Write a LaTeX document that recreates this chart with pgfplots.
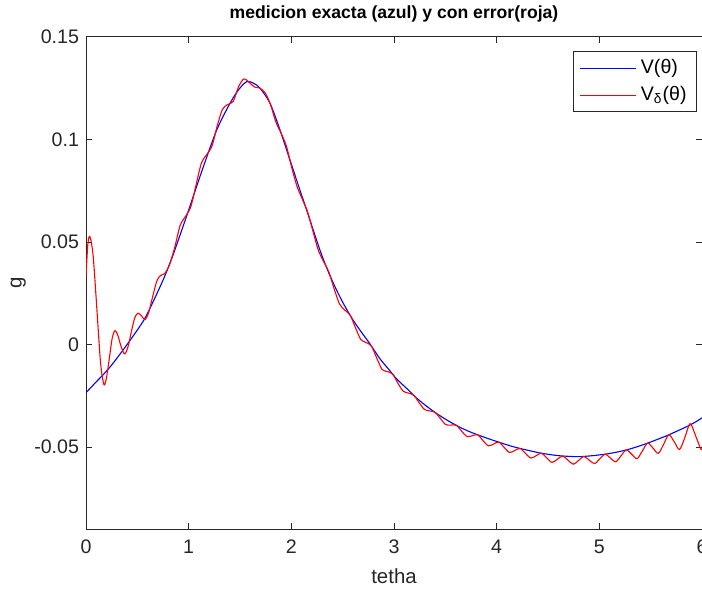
\documentclass[border=0pt]{standalone}
\usepackage{fontspec}
\setmainfont{Liberation Sans}
\usepackage{pgfplots}
\pgfplotsset{compat=1.18}
\definecolor{axgray}{gray}{0.15}

\begin{document}
\begin{tikzpicture}
\begin{axis}[
  scale only axis, width=308pt, height=246pt,
  xmin=0, xmax=6, ymin=-0.09, ymax=0.15,
  xtick={0,1,2,3,4,5,6}, xticklabels={0,1,2,3,4,5,6},
  ytick={-0.05,0,0.05,0.1,0.15}, yticklabels={-0.05,0,0.05,0.1,0.15},
  tick align=inside, major tick length=3pt,
  axis line style={axgray, line width=0.5pt},
  every tick/.style={axgray, line width=0.5pt},
  tick label style={font=\fontsize{9.8}{11}\selectfont, text=axgray},
  xticklabel style={yshift=-2pt},
  xlabel={tetha}, ylabel={g},
  label style={font=\fontsize{10.2}{12}\selectfont, text=axgray},
  xlabel style={at={(axis description cs:0.5,-0.0955)}, anchor=center},
  ylabel style={at={(axis description cs:-0.110,0.5)}, anchor=center},
  title={medicion exacta (azul) y con error(roja)},
  title style={font=\bfseries\fontsize{8.8}{10}\selectfont,
    at={(axis description cs:0.5,1.047)}, anchor=center, yshift=-6pt},
  legend style={at={(axis description cs:0.992,0.9715)}, anchor=north east,
    draw=axgray, line width=0.5pt, font=\fontsize{9.8}{11}\selectfont,
    inner xsep=3pt, inner ysep=2pt, row sep=1pt, cells={anchor=west}},
  legend image code/.code={\draw[#1] (1pt,0pt) -- (29pt,0pt);},
]
% exacta
\addplot[blue, line width=0.55pt, smooth] coordinates {
(0.000,-0.0235) (0.100,-0.0182) (0.175,-0.0143) (0.250,-0.0100) (0.370,-0.0021)
(0.450,0.0035) (0.565,0.0120) (0.650,0.0205) (0.760,0.0325) (0.850,0.0440)
(0.955,0.0590) (1.050,0.0730) (1.143,0.0867) (1.273,0.1046) (1.403,0.1177)
(1.490,0.1245) (1.565,0.1282) (1.630,0.1275) (1.695,0.1250) (1.792,0.1177)
(1.890,0.1046) (1.987,0.0899) (2.084,0.0753) (2.182,0.0606) (2.279,0.0460)
(2.360,0.0355) (2.442,0.0264) (2.520,0.0188) (2.604,0.0117) (2.690,0.0055)
(2.766,0.0003) (2.864,-0.0070) (2.945,-0.0119) (3.026,-0.0168) (3.140,-0.0222)
(3.221,-0.0262) (3.320,-0.0302) (3.416,-0.0337) (3.530,-0.0373) (3.643,-0.0404)
(3.740,-0.0426) (3.838,-0.0445) (3.940,-0.0463) (4.032,-0.0478) (4.130,-0.0494)
(4.227,-0.0507) (4.330,-0.0519) (4.420,-0.0529) (4.520,-0.0537) (4.620,-0.0543)
(4.720,-0.0546) (4.810,-0.0547) (4.940,-0.0542) (5.070,-0.0534) (5.170,-0.0525)
(5.266,-0.0514) (5.360,-0.0500) (5.460,-0.0483) (5.560,-0.0464) (5.656,-0.0445)
(5.750,-0.0424) (5.850,-0.0401) (5.930,-0.0380) (6.000,-0.0358)
};
\addlegendentry{V(θ)}
% con error
\addplot[red, line width=0.55pt, smooth] coordinates {
(0.000,0.0329) (0.018,0.0490) (0.039,0.0525) (0.070,0.0430) (0.107,0.0165)
(0.142,-0.0090) (0.175,-0.0196) (0.200,-0.0160) (0.228,-0.0065) (0.255,0.0030)
(0.282,0.0068) (0.310,0.0045) (0.345,-0.0015) (0.377,-0.0046) (0.410,-0.0010)
(0.445,0.0070) (0.475,0.0130) (0.506,0.0153) (0.540,0.0140) (0.575,0.0122)
(0.610,0.0155) (0.650,0.0235) (0.690,0.0310) (0.727,0.0337) (0.765,0.0345)
(0.810,0.0385) (0.860,0.0465)
(0.916,0.0579) (0.968,0.0624) (1.020,0.0671) (1.071,0.0776) (1.123,0.0883)
(1.175,0.0926) (1.227,0.0968) (1.278,0.1066) (1.330,0.1148) (1.382,0.1171)
(1.434,0.1186) (1.485,0.1256) (1.537,0.1295) (1.589,0.1279) (1.641,0.1256)
(1.692,0.1251) (1.744,0.1228) (1.796,0.1172) (1.848,0.1087) (1.899,0.1032)
(1.951,0.0969) (2.003,0.0865) (2.055,0.0772) (2.106,0.0710) (2.158,0.0647)
(2.210,0.0554) (2.262,0.0461) (2.313,0.0406) (2.365,0.0354) (2.417,0.0272)
(2.469,0.0198) (2.520,0.0168) (2.572,0.0144) (2.624,0.0083) (2.676,0.0025)
(2.727,0.0010) (2.779,-0.0007) (2.831,-0.0065) (2.883,-0.0121) (2.934,-0.0132)
(2.986,-0.0144) (3.038,-0.0189) (3.090,-0.0228) (3.141,-0.0237) (3.193,-0.0248)
(3.245,-0.0284) (3.297,-0.0317) (3.348,-0.0324) (3.400,-0.0331) (3.452,-0.0361)
(3.504,-0.0391) (3.555,-0.0393) (3.607,-0.0394) (3.659,-0.0423) (3.711,-0.0449)
(3.762,-0.0445) (3.814,-0.0440) (3.866,-0.0468) (3.918,-0.0494) (3.969,-0.0486)
(4.021,-0.0476) (4.073,-0.0502) (4.125,-0.0527) (4.176,-0.0517) (4.228,-0.0507)
(4.280,-0.0531) (4.332,-0.0554) (4.383,-0.0543) (4.435,-0.0530) (4.487,-0.0553)
(4.539,-0.0575) (4.590,-0.0560) (4.642,-0.0544) (4.694,-0.0564) (4.746,-0.0584)
(4.797,-0.0566) (4.849,-0.0546) (4.901,-0.0564) (4.953,-0.0581) (5.004,-0.0558)
(5.056,-0.0535) (5.108,-0.0554) (5.160,-0.0572) (5.211,-0.0543) (5.263,-0.0514)
(5.315,-0.0535) (5.367,-0.0557) (5.418,-0.0520) (5.470,-0.0481) (5.522,-0.0505)
(5.574,-0.0531) (5.625,-0.0488) (5.677,-0.0440) (5.729,-0.0474) (5.781,-0.0512)
(5.832,-0.0455) (5.884,-0.0386) (5.936,-0.0443) (5.988,-0.0510) (6.000,-0.0508)
};
\addlegendentry{V\textsubscript{δ}(θ)}
\end{axis}
\pgfresetboundingbox
\path[use as bounding box] ([xshift=-43pt,yshift=-29.5pt]current axis.south west)
  rectangle ([yshift=18.5pt]current axis.north east);
\end{tikzpicture}
\end{document}
